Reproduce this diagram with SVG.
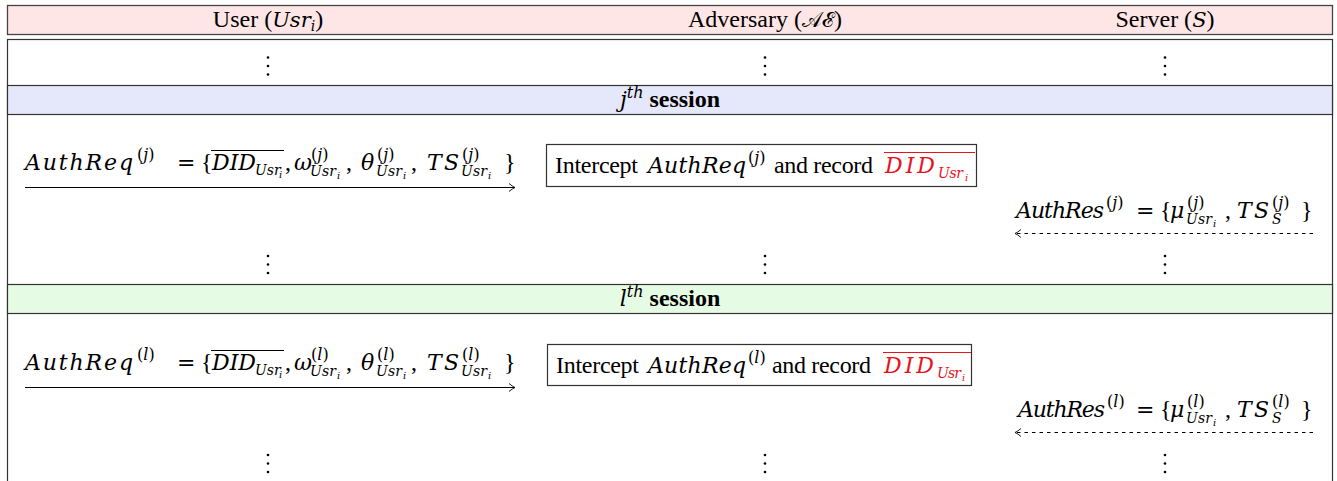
<svg xmlns="http://www.w3.org/2000/svg" width="1337" height="481" viewBox="0 0 1337 481">
  <style>
    .t { font-family: "Liberation Serif", "Times New Roman", serif; font-size: 24px; fill: #000; }
    .m { font-family: "DejaVu Serif", serif; font-size: 22px; font-style: italic; fill: #000; }
    .eq { font-family: "DejaVu Serif", serif; font-size: 22px; fill: #000; }
    .u { font-family: "Liberation Serif", "Times New Roman", serif; font-size: 24px; fill: #000; }
    .sup { font-family: "DejaVu Serif", serif; font-size: 16px; fill: #000; }
    .sub { font-family: "DejaVu Serif", serif; font-size: 14px; font-style: italic; fill: #000; }
    .ss { font-family: "DejaVu Serif", serif; font-size: 10px; font-style: italic; fill: #000; }
    .it { font-style: italic; }
    .mi { font-family: "DejaVu Serif", serif; font-style: italic; }
    .red { fill: #e8141c; }
    .ovl { stroke: #000; stroke-width: 1; }
    .ovl-red { stroke: #e8141c; stroke-width: 1; }
    .msg { fill: none; stroke: #000; stroke-width: 1; }
    .dash { stroke-dasharray: 3.5 4; }
    .box { fill: #fff; stroke: #333; stroke-width: 1.2; }
    .dot { fill: #000; }
  </style>
  <defs>
    <marker id="tip" viewBox="-8 -5 10 10" refX="0" refY="0" markerWidth="10" markerHeight="10" markerUnits="userSpaceOnUse" orient="auto">
      <path d="M -6 -4 Q -2.5 -1 0 0 Q -2.5 1 -6 4" fill="none" stroke="#000" stroke-width="0.9"/>
    </marker>
    <g id="vdots">
      <circle class="dot" cx="0" cy="0" r="1.3"/>
      <circle class="dot" cx="0" cy="8.5" r="1.3"/>
      <circle class="dot" cx="0" cy="17" r="1.3"/>
    </g>
  </defs>

  <!-- participant header -->
  <g id="header">
    <rect x="7.5" y="5.5" width="1325" height="29" fill="#ffe6e6" stroke="#444" stroke-width="1.3"/>
    <text class="t" x="268" y="27" text-anchor="middle">User (<tspan class="mi" font-size="21">Usr</tspan><tspan class="mi" font-size="14" dy="4">i</tspan><tspan dy="-4">)</tspan></text>
    <text class="t" x="765" y="27" text-anchor="middle">Adversary (<tspan font-size="21">𝒜ℰ</tspan>)</text>
    <text class="t" x="1165" y="27" text-anchor="middle">Server (<tspan class="mi" font-size="21">S</tspan>)</text>
  </g>

  <!-- protocol frame with session bands -->
  <g id="frame">
    <rect x="7.5" y="39.5" width="1325" height="460" fill="#fff" stroke="#333" stroke-width="1.2"/>
    <rect x="7.5" y="85.5" width="1325" height="29" fill="#e5e7fa" stroke="#333" stroke-width="1.2"/>
    <rect x="7.5" y="284.5" width="1325" height="29" fill="#e5fbe3" stroke="#333" stroke-width="1.2"/>
  </g>

  <g id="session-j">
    <text class="t" x="670" y="107" text-anchor="middle"><tspan class="mi" font-size="22">j</tspan><tspan class="mi" font-size="16" dy="-9">th</tspan><tspan dy="9" font-weight="bold"> session</tspan></text>
  </g>
  <g id="session-l">
    <text class="t" x="670" y="306" text-anchor="middle"><tspan class="mi" font-size="22">l</tspan><tspan class="mi" font-size="16" dy="-9">th</tspan><tspan dy="9" font-weight="bold"> session</tspan></text>
  </g>

  <!-- continuation dots in each lane -->
  <g id="ellipses">
    <use href="#vdots" x="268" y="57.5"/>
    <use href="#vdots" x="765" y="57.5"/>
    <use href="#vdots" x="1165" y="57.5"/>
    <use href="#vdots" x="268" y="256"/>
    <use href="#vdots" x="765" y="256"/>
    <use href="#vdots" x="1165" y="256"/>
    <use href="#vdots" x="268" y="455"/>
    <use href="#vdots" x="765" y="455"/>
    <use href="#vdots" x="1165" y="455"/>
  </g>

  <!-- message arrows -->
  <g id="connectors">
    <line class="msg" x1="25" y1="187.5" x2="515" y2="187.5" marker-end="url(#tip)"/>
    <line class="msg dash" x1="1313" y1="233.5" x2="1015" y2="233.5" marker-end="url(#tip)"/>
    <line class="msg" x1="25" y1="387.5" x2="515" y2="387.5" marker-end="url(#tip)"/>
    <line class="msg dash" x1="1313" y1="432.5" x2="1015" y2="432.5" marker-end="url(#tip)"/>
  </g>

  <!-- session j: user request -->
  <g id="authreq-j">
    <text class="m" x="25" y="170" font-size="27" textLength="108" lengthAdjust="spacing">AuthReq</text>
    <text class="sup" x="137" y="160" font-size="17">(<tspan class="it">j</tspan>)</text>
    <text class="eq" x="177" y="170">=</text>
    <text class="u" x="201" y="170">{</text>
    <line class="ovl" x1="211" y1="150.5" x2="284" y2="150.5"/>
    <text class="m" x="212" y="170">DID</text>
    <text class="sub" x="255" y="175" font-size="12">Usr</text>
    <text class="ss" x="279" y="178">i</text>
    <text class="u" x="285" y="170">,</text>
    <text class="m" x="294" y="170">ω</text>
    <text class="sup" x="311" y="160">(<tspan class="it">j</tspan>)</text>
    <text class="sub" x="310" y="176" textLength="26" lengthAdjust="spacing">Usr</text>
    <text class="ss" x="337" y="179">i</text>
    <text class="u" x="346" y="170">,</text>
    <text class="m" x="361" y="170">θ</text>
    <text class="sup" x="377" y="160">(<tspan class="it">j</tspan>)</text>
    <text class="sub" x="376" y="176" textLength="26" lengthAdjust="spacing">Usr</text>
    <text class="ss" x="403" y="179">i</text>
    <text class="u" x="411" y="170">,</text>
    <text class="m" x="427" y="170" font-size="24" textLength="32" lengthAdjust="spacing">TS</text>
    <text class="sup" x="462" y="160">(<tspan class="it">j</tspan>)</text>
    <text class="sub" x="461" y="176" textLength="26" lengthAdjust="spacing">Usr</text>
    <text class="ss" x="488" y="179">i</text>
    <text class="u" x="504" y="170">}</text>
  </g>

  <!-- session j: adversary action -->
  <g id="intercept-j">
    <rect class="box" x="546.5" y="144.5" width="430" height="42"/>
    <text class="t" x="555" y="173" textLength="83" lengthAdjust="spacing">Intercept</text>
    <text class="m" x="648" y="173" font-size="24" textLength="98" lengthAdjust="spacing">AuthReq</text>
    <text class="sup" x="748" y="163">(<tspan class="it">j</tspan>)</text>
    <text class="t" x="774" y="173" textLength="99" lengthAdjust="spacing">and record</text>
    <line class="ovl-red" x1="884" y1="152.5" x2="975" y2="152.5"/>
    <text class="m red" x="885" y="173" font-size="25" textLength="50" lengthAdjust="spacing">DID</text>
    <text class="sub red" x="938" y="178" font-size="15" textLength="25" lengthAdjust="spacing">Usr</text>
    <text class="ss red" x="965" y="181">i</text>
  </g>

  <!-- session j: server response -->
  <g id="authres-j">
    <text class="m" x="1016" y="218" textLength="88" lengthAdjust="spacing">AuthRes</text>
    <text class="sup" x="1106" y="208">(<tspan class="it">j</tspan>)</text>
    <text class="eq" x="1136" y="218">=</text>
    <text class="u" x="1160" y="218">{</text>
    <text class="m" x="1170" y="218">μ</text>
    <text class="sup" x="1187" y="208">(<tspan class="it">j</tspan>)</text>
    <text class="sub" x="1186" y="224" textLength="26" lengthAdjust="spacing">Usr</text>
    <text class="ss" x="1213" y="227">i</text>
    <text class="u" x="1225" y="218">,</text>
    <text class="m" x="1237" y="218" font-size="24" textLength="32" lengthAdjust="spacing">TS</text>
    <text class="sup" x="1272" y="208">(<tspan class="it">j</tspan>)</text>
    <text class="sub" x="1272" y="224" font-size="15">S</text>
    <text class="u" x="1301" y="218">}</text>
  </g>

  <!-- session l: user request -->
  <g id="authreq-l">
    <text class="m" x="25" y="370" font-size="27" textLength="108" lengthAdjust="spacing">AuthReq</text>
    <text class="sup" x="137" y="360" font-size="17">(<tspan class="it">l</tspan>)</text>
    <text class="eq" x="177" y="370">=</text>
    <text class="u" x="201" y="370">{</text>
    <line class="ovl" x1="211" y1="350.5" x2="284" y2="350.5"/>
    <text class="m" x="212" y="370">DID</text>
    <text class="sub" x="255" y="375" font-size="12">Usr</text>
    <text class="ss" x="279" y="378">i</text>
    <text class="u" x="285" y="370">,</text>
    <text class="m" x="294" y="370">ω</text>
    <text class="sup" x="311" y="360">(<tspan class="it">l</tspan>)</text>
    <text class="sub" x="310" y="376" textLength="26" lengthAdjust="spacing">Usr</text>
    <text class="ss" x="337" y="379">i</text>
    <text class="u" x="346" y="370">,</text>
    <text class="m" x="361" y="370">θ</text>
    <text class="sup" x="377" y="360">(<tspan class="it">l</tspan>)</text>
    <text class="sub" x="376" y="376" textLength="26" lengthAdjust="spacing">Usr</text>
    <text class="ss" x="403" y="379">i</text>
    <text class="u" x="411" y="370">,</text>
    <text class="m" x="427" y="370" font-size="24" textLength="32" lengthAdjust="spacing">TS</text>
    <text class="sup" x="462" y="360">(<tspan class="it">l</tspan>)</text>
    <text class="sub" x="461" y="376" textLength="26" lengthAdjust="spacing">Usr</text>
    <text class="ss" x="488" y="379">i</text>
    <text class="u" x="504" y="370">}</text>
  </g>

  <!-- session l: adversary action -->
  <g id="intercept-l">
    <rect class="box" x="547.5" y="344.5" width="424" height="41"/>
    <text class="t" x="556" y="373" textLength="83" lengthAdjust="spacing">Intercept</text>
    <text class="m" x="648" y="373" font-size="24" textLength="98" lengthAdjust="spacing">AuthReq</text>
    <text class="sup" x="748" y="363">(<tspan class="it">l</tspan>)</text>
    <text class="t" x="772" y="373" textLength="99" lengthAdjust="spacing">and record</text>
    <line class="ovl-red" x1="883" y1="352.5" x2="971" y2="352.5"/>
    <text class="m red" x="884" y="373" font-size="25" textLength="50" lengthAdjust="spacing">DID</text>
    <text class="sub red" x="937" y="378" font-size="15" textLength="24" lengthAdjust="spacing">Usr</text>
    <text class="ss red" x="962" y="381">i</text>
  </g>

  <!-- session l: server response -->
  <g id="authres-l">
    <text class="m" x="1018" y="417" textLength="87" lengthAdjust="spacing">AuthRes</text>
    <text class="sup" x="1107" y="407">(<tspan class="it">l</tspan>)</text>
    <text class="eq" x="1136" y="417">=</text>
    <text class="u" x="1160" y="417">{</text>
    <text class="m" x="1170" y="417">μ</text>
    <text class="sup" x="1187" y="407">(<tspan class="it">l</tspan>)</text>
    <text class="sub" x="1186" y="423" textLength="26" lengthAdjust="spacing">Usr</text>
    <text class="ss" x="1213" y="426">i</text>
    <text class="u" x="1225" y="417">,</text>
    <text class="m" x="1237" y="417" font-size="24" textLength="32" lengthAdjust="spacing">TS</text>
    <text class="sup" x="1272" y="407">(<tspan class="it">l</tspan>)</text>
    <text class="sub" x="1272" y="423" font-size="15">S</text>
    <text class="u" x="1301" y="417">}</text>
  </g>
</svg>
